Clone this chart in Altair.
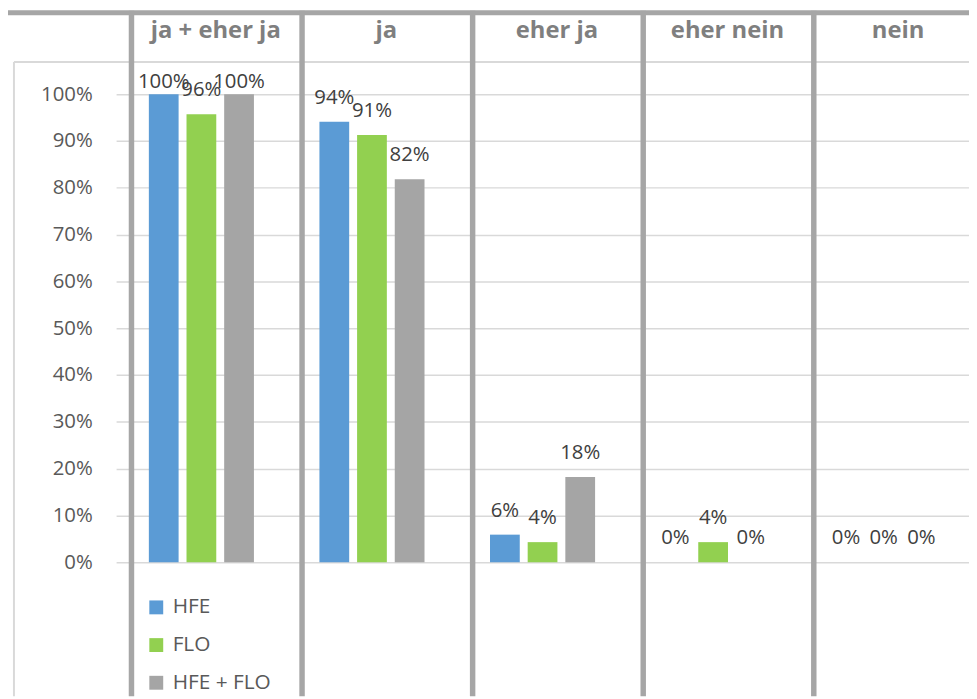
import altair as alt
import pandas as pd

categories = ["ja + eher ja", "ja", "eher ja", "eher nein", "nein"]
series = ["HFE", "FLO", "HFE + FLO"]
hfe = [1.0, 0.941, 0.059, 0.0, 0.0]
flo = [0.957, 0.913, 0.043, 0.043, 0.0]
hfe_flo = [1.0, 0.818, 0.182, 0.0, 0.0]
y_ticks = [0.0, 0.1, 0.2, 0.3, 0.4, 0.5, 0.6, 0.7, 0.8, 0.9, 1.0]
colors = ["#5b9bd5", "#92d050", "#a5a5a5"]

rows = []
for s, vals in zip(series, [hfe, flo, hfe_flo]):
    for c, v in zip(categories, vals):
        rows.append({"cat": c, "series": s, "value": v})
df = pd.DataFrame(rows)
cat_df = pd.DataFrame({"cat": categories})
one = pd.DataFrame({"k": [0]})

W, H = 860, 472
FONT = "Open Sans"

x_scale = alt.Scale(domain=categories, paddingInner=0.384, paddingOuter=0.192)
y_scale = alt.Scale(domain=[0, 1], nice=False, zero=True)
xo = alt.XOffset("series:N", sort=series,
                 scale=alt.Scale(domain=series, paddingInner=0.21, paddingOuter=0))
y_axis = alt.Axis(
    values=y_ticks, format=".0%", orient="left", domain=False, ticks=False,
    grid=True, gridColor="#d9d9d9", gridWidth=1.5, labelPadding=24,
    labelFont=FONT, labelFontSize=20.5, labelColor="#595959", title=None)

bars = alt.Chart(df).mark_bar().encode(
    x=alt.X("cat:N", scale=x_scale, sort=categories, axis=None),
    xOffset=xo,
    y=alt.Y("value:Q", scale=y_scale, axis=y_axis, title=None),
    color=alt.Color("series:N", sort=series,
                    scale=alt.Scale(domain=series, range=colors),
                    legend=alt.Legend(title=None, orient="none", legendX=30, legendY=507,
                                      direction="vertical", symbolType="square",
                                      symbolSize=196, symbolStrokeWidth=0, symbolOpacity=1,
                                      labelFont=FONT, labelFontSize=21, labelColor="#595959",
                                      labelOffset=6, rowPadding=16, padding=0)),
)

labels = alt.Chart(df).transform_calculate(
    pos="min(datum.value + 0.051, 1.026)"
).mark_text(font=FONT, fontSize=20.5, color="#404040", baseline="middle").encode(
    x=alt.X("cat:N", scale=x_scale, sort=categories, axis=None),
    xOffset=xo,
    y=alt.Y("pos:Q", scale=y_scale, axis=y_axis, title=None),
    text=alt.Text("value:Q", format=".0%"),
)

vlines = alt.Chart(cat_df).mark_rule(color="#a6a6a6", strokeWidth=5.5, xOffset=-70.5).encode(
    x=alt.X("cat:N", scale=x_scale, sort=categories, axis=None),
    y=alt.value(-84), y2=alt.value(607),
)

topline = alt.Chart(one).mark_rule(color="#a6a6a6", strokeWidth=5).encode(
    x=alt.value(-109), x2=alt.value(860), y=alt.value(-82),
)

border_top = alt.Chart(one).mark_rule(color="#d9d9d9", strokeWidth=2).encode(
    x=alt.value(-103), x2=alt.value(860), y=alt.value(-32.5),
)
border_left = alt.Chart(one).mark_rule(color="#d9d9d9", strokeWidth=2).encode(
    x=alt.value(-103), y=alt.value(-32.5), y2=alt.value(607),
)

headers = alt.Chart(cat_df).mark_text(
    font=FONT, fontSize=24, fontWeight="bold", color="#7f7f7f",
    baseline="alphabetic", align="center", dx=14.5,
).encode(
    x=alt.X("cat:N", scale=x_scale, sort=categories, axis=None),
    y=alt.value(-57),
    text="cat:N",
)

chart = alt.layer(border_top, border_left, vlines, topline, bars, labels, headers).properties(
    width=W, height=H,
    autosize=alt.AutoSizeParams(type="none"),
    padding={"left": 109, "top": 84, "right": 0, "bottom": 135},
).configure_view(stroke=None)

chart.save("out.html", embed_options={"renderer": "svg", "actions": False})
